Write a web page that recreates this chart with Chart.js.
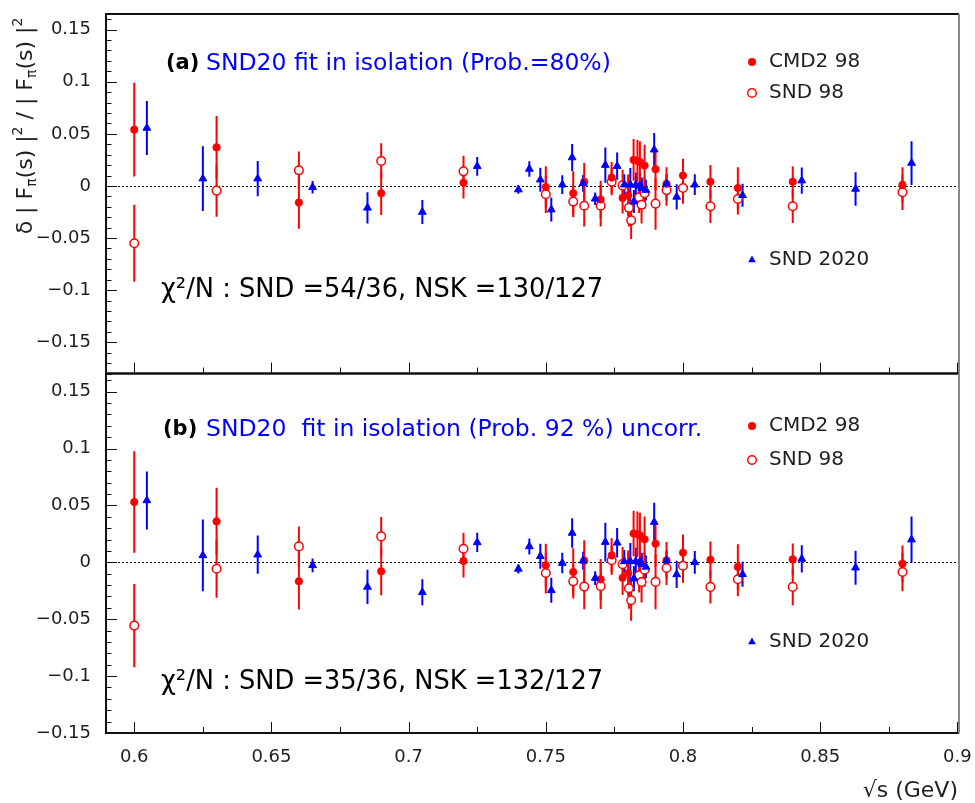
<!DOCTYPE html>
<html>
<head>
<meta charset="utf-8">
<title>SND20 fit in isolation - residuals</title>
<script src="https://cdn.jsdelivr.net/npm/chart.js@4.4.1/dist/chart.umd.min.js"></script>
<style>
  html, body { margin: 0; padding: 0; background: #fff; }
  #chartBox { width: 975px; height: 803px; }
</style>
</head>
<body>
<div id="chartBox"><canvas id="residualChart" width="975" height="803"></canvas></div>
<script>
// ---- values ----
// CMD2 98 (filled red circles)
const cmdX  = [0.600, 0.630, 0.660, 0.690, 0.720, 0.750, 0.760, 0.764, 0.770, 0.774, 0.778, 0.780, 0.782, 0.7834, 0.7843, 0.786, 0.790, 0.794, 0.800, 0.810, 0.820, 0.840, 0.880];
const cmdA  = [0.054, 0.037, -0.016, -0.007, 0.003, -0.001, -0.007, 0.004, -0.013, 0.008, -0.0115, -0.009, 0.025, 0.024, 0.023, 0.0195, 0.016, 0.002, 0.010, 0.004, -0.002, 0.004, 0.001];
const cmdAe = [0.045, 0.030, 0.025, 0.021, 0.015, 0.020, 0.021, 0.018, 0.018, 0.015, 0.015, 0.020, 0.020, 0.020, 0.020, 0.020, 0.020, 0.016, 0.016, 0.016, 0.020, 0.015, 0.017];
const cmdB  = [0.053, 0.036, -0.0167, -0.0079, 0.0012, -0.0026, -0.0085, 0.0015, -0.015, 0.0061, -0.0136, -0.0095, 0.0254, 0.0247, 0.0237, 0.0202, 0.0164, 0.0018, 0.0085, 0.0023, -0.004, 0.0026, -0.0012];
const cmdBe = [0.0446, 0.0295, 0.0248, 0.021, 0.0146, 0.019, 0.021, 0.018, 0.018, 0.015, 0.015, 0.020, 0.020, 0.020, 0.020, 0.020, 0.020, 0.016, 0.016, 0.016, 0.020, 0.014, 0.016];

// SND 98 (open red circles)
const snd98X  = [0.600, 0.630, 0.660, 0.690, 0.720, 0.750, 0.760, 0.764, 0.770, 0.774, 0.778, 0.7803, 0.7811, 0.784, 0.7849, 0.786, 0.790, 0.794, 0.800, 0.810, 0.820, 0.840, 0.880];
const snd98A  = [-0.055, -0.0045, 0.015, 0.024, 0.014, -0.008, -0.015, -0.019, -0.019, 0.004, 0.0005, -0.021, -0.033, -0.011, -0.018, -0.007, -0.017, -0.004, -0.002, -0.0195, -0.0125, -0.0195, -0.006];
const snd98Ae = [0.037, 0.025, 0.018, 0.017, 0.015, 0.018, 0.015, 0.020, 0.020, 0.013, 0.015, 0.018, 0.018, 0.015, 0.018, 0.015, 0.025, 0.015, 0.015, 0.016, 0.015, 0.016, 0.017];
const snd98B  = [-0.0556, -0.0056, 0.014, 0.0228, 0.012, -0.0094, -0.0167, -0.0213, -0.0209, 0.0018, -0.0016, -0.0228, -0.0333, -0.0114, -0.0173, -0.0064, -0.0172, -0.005, -0.003, -0.0216, -0.0149, -0.0216, -0.0085];
const snd98Be = [0.0366, 0.0255, 0.0176, 0.017, 0.014, 0.018, 0.015, 0.020, 0.020, 0.013, 0.015, 0.018, 0.018, 0.015, 0.018, 0.015, 0.024, 0.015, 0.015, 0.0146, 0.015, 0.016, 0.017];

// SND 2020 (blue triangles)
const snd20X  = [0.6046, 0.625, 0.645, 0.665, 0.685, 0.705, 0.725, 0.740, 0.744, 0.748, 0.752, 0.756, 0.7596, 0.7636, 0.768, 0.7717, 0.776, 0.7786, 0.7808, 0.7821, 0.7828, 0.7843, 0.785, 0.7865, 0.7895, 0.794, 0.7977, 0.8043, 0.8217, 0.8433, 0.8629, 0.8833];
const snd20A  = [0.0556, 0.007, 0.007, -0.0013, -0.021, -0.025, 0.0188, -0.0035, 0.0163, 0.006, -0.0227, 0.0012, 0.0273, 0.0025, -0.0123, 0.020, 0.019, 0.0012, 0.0012, -0.015, 0.001, 0.0, -0.002, -0.004, 0.0348, 0.002, -0.0105, 0.0012, -0.009, 0.0051, -0.0029, 0.022];
const snd20Ae = [0.026, 0.031, 0.017, 0.006, 0.015, 0.0115, 0.009, 0.004, 0.0075, 0.0115, 0.0115, 0.009, 0.013, 0.008, 0.006, 0.017, 0.013, 0.010, 0.016, 0.011, 0.012, 0.012, 0.010, 0.010, 0.016, 0.009, 0.012, 0.010, 0.011, 0.0125, 0.016, 0.021];
const snd20B  = [0.0544, 0.0061, 0.0067, -0.0026, -0.0216, -0.0263, 0.0175, -0.0058, 0.014, 0.0053, -0.0246, -0.0006, 0.0258, 0.0014, -0.0138, 0.0178, 0.0172, 0.0008, 0.001, -0.0143, 0.0008, 0.0, -0.0015, -0.004, 0.0354, 0.0015, -0.0106, 0.0, -0.0105, 0.003, -0.0047, 0.020];
const snd20Be = [0.0255, 0.0315, 0.0168, 0.006, 0.015, 0.0114, 0.0085, 0.004, 0.007, 0.011, 0.011, 0.009, 0.013, 0.008, 0.006, 0.017, 0.013, 0.010, 0.016, 0.011, 0.012, 0.012, 0.010, 0.010, 0.017, 0.009, 0.012, 0.010, 0.011, 0.012, 0.015, 0.0202];

// axis ticks
const xTickVals   = [0.6, 0.65, 0.7, 0.75, 0.8, 0.85, 0.9];
const xTickLabels = ['0.6', '0.65', '0.7', '0.75', '0.8', '0.85', '0.9'];
const yTickVals   = [-0.15, -0.1, -0.05, 0, 0.05, 0.1, 0.15];
const yTickLabels = ['\u22120.15', '\u22120.1', '\u22120.05', '0', '0.05', '0.1', '0.15'];

// texts
const seriesNames = ['CMD2 98', 'SND 98', 'SND 2020'];
const panelTags   = ['(a)', '(b)'];
const panelTitles = ['SND20 fit in isolation (Prob.=80%)', 'SND20  fit in isolation (Prob. 92 %) uncorr.'];
const chiTexts    = ['\u03c7\u00b2/N : SND =54/36, NSK =130/127', '\u03c7\u00b2/N : SND =35/36, NSK =132/127'];
const xTitle      = '\u221as (GeV)';

const RED = '#ff0000';
const BLUE = '#0000ff';
const INK = '#1e1e1e';
const FAMILY = "'DejaVu Sans', sans-serif";

function pts(xs, ys, es) {
    return xs.map((x, i) => ({ x: x, y: ys[i], e: es[i] }));
}

// draws one marker like the data points (used for the legend)
function drawMarker(ctx, kind, x, y) {
    ctx.save();
    if (kind === 'triangle') {
        const r = 4.5;
        ctx.fillStyle = BLUE;
        ctx.beginPath();
        ctx.moveTo(x, y - r);
        ctx.lineTo(x + r * 0.866, y + r * 0.5);
        ctx.lineTo(x - r * 0.866, y + r * 0.5);
        ctx.closePath();
        ctx.fill();
    } else {
        ctx.beginPath();
        ctx.arc(x, y, kind === 'open' ? 4.3 : 4, 0, Math.PI * 2);
        if (kind === 'open') {
            ctx.fillStyle = '#fff';
            ctx.fill();
            ctx.strokeStyle = RED;
            ctx.lineWidth = 1.5;
            ctx.stroke();
        } else {
            ctx.fillStyle = RED;
            ctx.fill();
        }
    }
    ctx.restore();
}

const panelPlugin = {
    id: 'panelPlugin',
    beforeDatasetsDraw(chart) {
        const ctx = chart.ctx;
        const xs = chart.scales.x;
        // dotted zero lines
        ['yA', 'yB'].forEach(id => {
            const ys = chart.scales[id];
            const py = Math.round(ys.getPixelForValue(0)) + 0.5;
            ctx.save();
            ctx.strokeStyle = '#000';
            ctx.lineWidth = 1;
            ctx.setLineDash([2, 2]);
            ctx.beginPath();
            ctx.moveTo(xs.left, py);
            ctx.lineTo(xs.right, py);
            ctx.stroke();
            ctx.restore();
        });
        // vertical error bars
        chart.data.datasets.forEach(ds => {
            const ys = chart.scales[ds.yAxisID];
            ctx.save();
            ctx.beginPath();
            ctx.rect(xs.left, ys.top, xs.width, ys.height);
            ctx.clip();
            ctx.strokeStyle = ds.barColor;
            ctx.lineWidth = 2;
            ds.data.forEach(p => {
                const px = xs.getPixelForValue(p.x);
                ctx.beginPath();
                ctx.moveTo(px, ys.getPixelForValue(p.y + p.e));
                ctx.lineTo(px, ys.getPixelForValue(p.y - p.e));
                ctx.stroke();
            });
            ctx.restore();
        });
    },
    afterDraw(chart) {
        const ctx = chart.ctx;
        const xs = chart.scales.x;
        const panels = [chart.scales.yA, chart.scales.yB];

        panels.forEach((ys, n) => {
            const l = xs.left, r = xs.right, t = ys.top, b = ys.bottom;
            ctx.save();
            // frame
            ctx.lineWidth = 2;
            ctx.strokeStyle = '#111';
            ctx.beginPath();
            ctx.moveTo(r, t); ctx.lineTo(l, t); ctx.lineTo(l, b); ctx.lineTo(r, b);
            ctx.stroke();
            ctx.strokeStyle = '#888';
            ctx.beginPath();
            ctx.moveTo(r, t); ctx.lineTo(r, b);
            ctx.stroke();

            // inner tick marks on the left edge (0.01 steps, long every 0.05)
            ctx.lineWidth = 1;
            ctx.strokeStyle = '#111';
            ctx.beginPath();
            for (let k = Math.ceil(ys.min * 100 - 1e-6); k <= Math.floor(ys.max * 100 + 1e-6); k++) {
                const py = Math.round(ys.getPixelForValue(k / 100)) + 0.5;
                const len = (k % 5 === 0) ? 11 : 5.5;
                ctx.moveTo(l, py);
                ctx.lineTo(l + len, py);
            }
            // inner tick marks on the bottom edge (0.025 steps, long every 0.05)
            for (let k = 24; k <= 36; k++) {
                const px = Math.round(xs.getPixelForValue(k * 0.025)) + 0.5;
                const len = (k % 2 === 0) ? 11 : 6;
                ctx.moveTo(px, b);
                ctx.lineTo(px, b - len);
            }
            ctx.stroke();

            // panel heading and chi2 text
            const dy = n === 0 ? 0 : 366;
            ctx.textBaseline = 'middle';
            ctx.textAlign = 'left';
            ctx.fillStyle = '#000';
            ctx.font = 'bold 21px ' + FAMILY;
            ctx.fillText(panelTags[n], n === 0 ? 166 : 163, 64 + dy);
            ctx.fillStyle = BLUE;
            ctx.font = '23.5px ' + FAMILY;
            ctx.fillText(panelTitles[n], 206, 64 + dy);
            ctx.fillStyle = '#000';
            ctx.font = '25.7px ' + FAMILY;
            ctx.fillText(chiTexts[n], 161, n === 0 ? 290 : 682);

            // legend
            const legY = n === 0 ? [62, 93, 260] : [426, 460, 642];
            const kinds = ['filled', 'open', 'triangle'];
            ctx.font = '20px ' + FAMILY;
            kinds.forEach((k, i) => {
                drawMarker(ctx, k, 752, legY[i]);
                ctx.fillStyle = INK;
                ctx.fillText(seriesNames[i], 769, legY[i]);
            });
            ctx.restore();
        });

        // x axis title
        ctx.save();
        ctx.fillStyle = INK;
        ctx.font = '22px ' + FAMILY;
        ctx.textAlign = 'right';
        ctx.textBaseline = 'middle';
        ctx.fillText(xTitle, 958, 791);
        ctx.restore();

        // y axis title, rotated, with sub- and superscripts
        const parts = [
            ['\u03b4 | F', 0], ['\u03c0', 1], ['(s) |', 0], ['2', -1],
            [' / | F', 0], ['\u03c0', 1], ['(s) |', 0], ['2', -1]
        ];
        const size = 22;
        ctx.save();
        ctx.translate(24, 126);
        ctx.rotate(-Math.PI / 2);
        ctx.fillStyle = INK;
        ctx.textBaseline = 'alphabetic';
        ctx.textAlign = 'left';
        let total = 0;
        parts.forEach(p => {
            ctx.font = (p[1] === 0 ? size : Math.round(size * 0.62)) + 'px ' + FAMILY;
            total += ctx.measureText(p[0]).width;
        });
        let cx = -total / 2;
        parts.forEach(p => {
            const s = p[1] === 0 ? size : Math.round(size * 0.62);
            ctx.font = s + 'px ' + FAMILY;
            const off = p[1] === 1 ? 4 : (p[1] === -1 ? -10 : 0);
            ctx.fillText(p[0], cx, 8 + off);
            cx += ctx.measureText(p[0]).width;
        });
        ctx.restore();
    }
};

function yScale(min, max, weight) {
    return {
        type: 'linear',
        position: 'left',
        stack: 'panels',
        stackWeight: 1,
        weight: weight,
        min: min,
        max: max,
        grid: { display: false, drawTicks: false },
        border: { display: false },
        afterBuildTicks: s => { s.ticks = yTickVals.map(v => ({ value: v })); },
        afterFit: s => {
            s.width = 106;
            // labels may overhang; keep the plot area fixed
            s.paddingTop = 0;
            s.paddingBottom = 0;
        },
        ticks: {
            autoSkip: false,
            padding: 15,
            color: INK,
            font: { family: FAMILY, size: 18 },
            callback: (v, i) => yTickLabels[i]
        }
    };
}

function buildChart() {
    const ctx = document.getElementById('residualChart').getContext('2d');
    const datasets = [
        // panel (a)
        { label: seriesNames[2], yAxisID: 'yA', data: pts(snd20X, snd20A, snd20Ae), barColor: BLUE,
          pointStyle: 'triangle', pointRadius: 4.5, backgroundColor: BLUE, borderColor: BLUE, borderWidth: 1 },
        { label: seriesNames[0], yAxisID: 'yA', data: pts(cmdX, cmdA, cmdAe), barColor: RED,
          pointStyle: 'circle', pointRadius: 3.8, backgroundColor: RED, borderColor: RED, borderWidth: 0.5 },
        { label: seriesNames[1], yAxisID: 'yA', data: pts(snd98X, snd98A, snd98Ae), barColor: RED,
          pointStyle: 'circle', pointRadius: 4.3, backgroundColor: '#fff', borderColor: RED, borderWidth: 1.5 },
        // panel (b)
        { label: seriesNames[2], yAxisID: 'yB', data: pts(snd20X, snd20B, snd20Be), barColor: BLUE,
          pointStyle: 'triangle', pointRadius: 4.5, backgroundColor: BLUE, borderColor: BLUE, borderWidth: 1 },
        { label: seriesNames[0], yAxisID: 'yB', data: pts(cmdX, cmdB, cmdBe), barColor: RED,
          pointStyle: 'circle', pointRadius: 3.8, backgroundColor: RED, borderColor: RED, borderWidth: 0.5 },
        { label: seriesNames[1], yAxisID: 'yB', data: pts(snd98X, snd98B, snd98Be), barColor: RED,
          pointStyle: 'circle', pointRadius: 4.3, backgroundColor: '#fff', borderColor: RED, borderWidth: 1.5 }
    ];

    new Chart(ctx, {
        type: 'scatter',
        data: { datasets: datasets },
        options: {
            responsive: false,
            animation: false,
            devicePixelRatio: 1,
            layout: { padding: { top: 14, right: 16, left: 0, bottom: 0 } },
            plugins: {
                legend: { display: false },
                tooltip: { enabled: false }
            },
            scales: {
                x: {
                    type: 'linear',
                    position: 'bottom',
                    min: 0.5897,
                    max: 0.9006,
                    grid: { display: false, drawTicks: false },
                    border: { display: false },
                    afterBuildTicks: s => { s.ticks = xTickVals.map(v => ({ value: v })); },
                    afterFit: s => {
                        s.height = 70;
                        s.paddingLeft = 0;
                        s.paddingRight = 0;
                    },
                    ticks: {
                        autoSkip: false,
                        maxRotation: 0,
                        padding: 14,
                        color: INK,
                        font: { family: FAMILY, size: 18 },
                        callback: (v, i) => xTickLabels[i]
                    }
                },
                yB: yScale(-0.15, 0.166, 1),
                yA: yScale(-0.180, 0.165, 2)
            }
        },
        plugins: [panelPlugin]
    });
}

document.addEventListener('DOMContentLoaded', function () {
    buildChart();
});
</script>
</body>
</html>
